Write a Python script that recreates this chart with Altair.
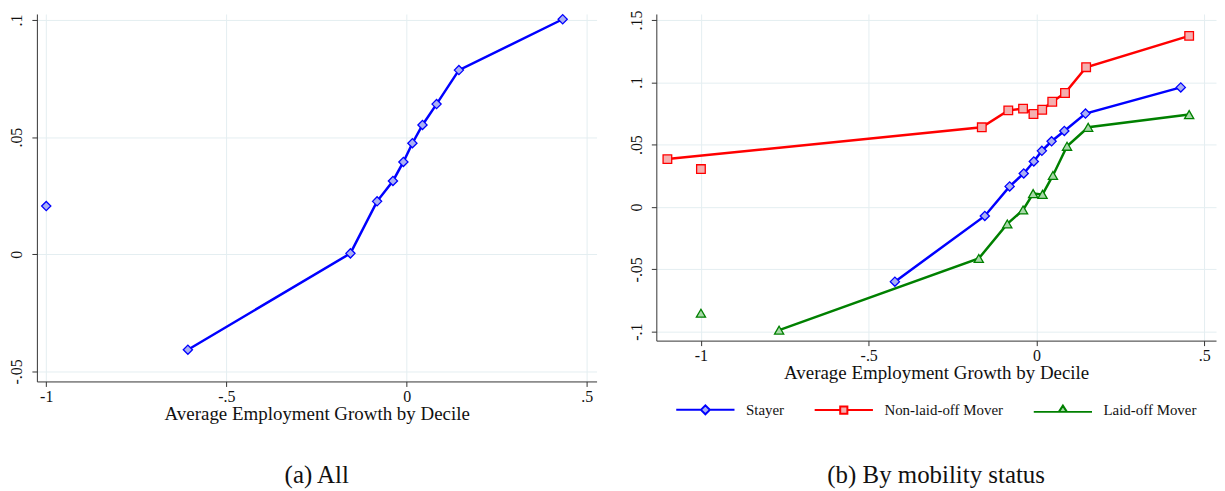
import altair as alt
import pandas as pd

# ---------------- data ----------------
# Panel (a): all workers
a_x = [-1.0, -0.607, -0.156, -0.082, -0.038, -0.009, 0.016, 0.044, 0.083, 0.145, 0.433]
a_y = [0.0206, -0.0407, 0.0004, 0.0226, 0.0313, 0.0394, 0.0474, 0.0552, 0.0641, 0.0786, 0.1003]
a_linked = [False, True, True, True, True, True, True, True, True, True, True]

# Panel (b): by mobility status
series_names = ["Stayer", "Non-laid-off Mover", "Laid-off Mover"]
stayer_x = [-0.422, -0.154, -0.080, -0.038, -0.008, 0.016, 0.045, 0.083, 0.146, 0.430]
stayer_y = [-0.0599, -0.0072, 0.0165, 0.0269, 0.0365, 0.0450, 0.0527, 0.0610, 0.0749, 0.0959]
stayer_linked = [True] * 10

nonlaid_x = [-1.100, -1.0, -0.163, -0.084, -0.040, -0.009, 0.017, 0.047, 0.085, 0.148, 0.455]
nonlaid_y = [0.0384, 0.0304, 0.0639, 0.0775, 0.0789, 0.0746, 0.0780, 0.0844, 0.0914, 0.1121, 0.1372]
nonlaid_linked = [True, False, True, True, True, True, True, True, True, True, True]

laid_x = [-1.0, -0.767, -0.172, -0.087, -0.040, -0.010, 0.018, 0.049, 0.091, 0.154, 0.455]
laid_y = [-0.0852, -0.0988, -0.0413, -0.0136, -0.0024, 0.0107, 0.0101, 0.0253, 0.0487, 0.0639, 0.0741]
laid_linked = [False, True, True, True, True, True, True, True, True, True, True]

x_ticks = [-1, -0.5, 0, 0.5]
a_y_ticks = [-0.05, 0, 0.05, 0.1]
b_y_ticks = [-0.1, -0.05, 0, 0.05, 0.1, 0.15]

line_colors = ["#0000ff", "#ff0000", "#008000"]
fill_colors = ["#aab0f4", "#f4b0b0", "#a8d8a8"]
shapes = ["diamond", "square", "triangle-up"]
# legend keys: a line with the marker in its middle (symbol starts at its nominal left edge)
legend_paths = [
    "M-1,0H4.5M6.5,0H12M4.5,0L5.5,-1L6.5,0L5.5,1Z",
    "M-1,0H4.7M6.3,0H12M4.7,-0.8H6.3V0.8H4.7Z",
    "M-1,0.4H4.6M6.4,0.4H12M4.6,0.4L5.5,-1L6.4,0.4Z",
]

FONT = "Liberation Serif"

df_a = pd.DataFrame({"x": a_x, "y": a_y, "linked": a_linked})
rows = []
for name, xs, ys, lk in [
    ("Stayer", stayer_x, stayer_y, stayer_linked),
    ("Non-laid-off Mover", nonlaid_x, nonlaid_y, nonlaid_linked),
    ("Laid-off Mover", laid_x, laid_y, laid_linked),
]:
    for xv, yv, l in zip(xs, ys, lk):
        rows.append({"x": xv, "y": yv, "series": name, "linked": l})
df_b = pd.DataFrame(rows)

lab_expr = ("datum.value == 0 ? '0' : (datum.value < 0 ? '-' : '') + "
            "replace(format(abs(datum.value), '.2~f'), '0.', '.')")

def x_axis():
    return alt.Axis(values=x_ticks, labelExpr=lab_expr, title="Average Employment Growth by Decile",
                    grid=True, gridColor="#e4eef1", gridWidth=1,
                    domainColor="#333333", tickColor="#333333", tickSize=5,
                    labelFont=FONT, labelFontSize=16, labelColor="#111111", labelPadding=2,
                    titleFont=FONT, titleFontSize=19, titleFontWeight="normal",
                    titleColor="#111111", titlePadding=0)

def y_axis(vals):
    return alt.Axis(values=vals, labelExpr=lab_expr, title=None,
                    grid=True, gridColor="#e4eef1", gridWidth=1,
                    domainColor="#333333", tickColor="#333333", tickSize=5,
                    labelFont=FONT, labelFontSize=16, labelColor="#111111", labelPadding=7,
                    labelAngle=270, labelAlign="center", labelBaseline="bottom")

# ---------------- panel (a) ----------------
xa = alt.X("x:Q", scale=alt.Scale(domain=[-1.026, 0.527], nice=False, zero=False), axis=x_axis())
ya = alt.Y("y:Q", scale=alt.Scale(domain=[-0.05425, 0.10255], nice=False, zero=False), axis=y_axis(a_y_ticks))

line_a = alt.Chart(df_a).transform_filter("datum.linked").mark_line(
    color=line_colors[0], strokeWidth=2.5).encode(x=xa, y=ya, order="x:Q")
pts_a = alt.Chart(df_a).mark_point(
    shape="diamond", filled=True, fill=fill_colors[0], stroke=line_colors[0],
    strokeWidth=1.3, size=85, opacity=1).encode(x=xa, y=ya)

panel_a = alt.layer(line_a, pts_a).properties(
    width=562, height=369,
    title=alt.TitleParams("(a) All", orient="bottom", offset=40,
                          font=FONT, fontSize=25, fontWeight="normal", color="#111111"))

# ---------------- panel (b) ----------------
xb = alt.X("x:Q", scale=alt.Scale(domain=[-1.133, 0.535], nice=False, zero=False), axis=x_axis())
yb = alt.Y("y:Q", scale=alt.Scale(domain=[-0.1072, 0.1548], nice=False, zero=False), axis=y_axis(b_y_ticks))

line_b = alt.Chart(df_b).transform_filter("datum.linked").mark_line(strokeWidth=2.5).encode(
    x=xb, y=yb, order="x:Q",
    color=alt.Color("series:N", scale=alt.Scale(domain=series_names, range=line_colors), legend=None))

pt_layers = []
for i, name in enumerate(series_names):
    pt_layers.append(
        alt.Chart(df_b).transform_filter(alt.datum.series == name).mark_point(
            shape=shapes[i], filled=True, fill=fill_colors[i], stroke=line_colors[i],
            strokeWidth=1.3, size=75 if i == 1 else 85, opacity=1).encode(x=xb, y=yb))

legend = alt.Legend(title=None, orient="none", direction="horizontal", legendX=17, legendY=390,
                    symbolSize=81, symbolStrokeWidth=2, labelFont=FONT, labelFontSize=15,
                    labelColor="#111111", labelOffset=58, columnPadding=26, padding=0)

legend_layer = alt.Chart(df_b).transform_filter("datum.x > 99").mark_point(
    filled=True, opacity=1, size=81, strokeWidth=2).encode(
    x=xb, y=yb,
    fill=alt.Fill("series:N", scale=alt.Scale(domain=series_names, range=fill_colors), legend=legend),
    stroke=alt.Stroke("series:N", scale=alt.Scale(domain=series_names, range=line_colors), legend=legend),
    shape=alt.Shape("series:N", scale=alt.Scale(domain=series_names, range=legend_paths), legend=legend),
)

panel_b = alt.layer(line_b, *pt_layers, legend_layer).properties(
    width=562, height=328,
    title=alt.TitleParams("(b) By mobility status", orient="bottom", offset=45,
                          font=FONT, fontSize=25, fontWeight="normal", color="#111111"))

chart = alt.hconcat(panel_a, panel_b, spacing=30).resolve_legend(
    fill="independent", stroke="independent", shape="independent").configure(
    padding=0, background="white").configure_view(stroke="transparent")

chart.save("out.html", embed_options={"renderer": "svg", "actions": False})
